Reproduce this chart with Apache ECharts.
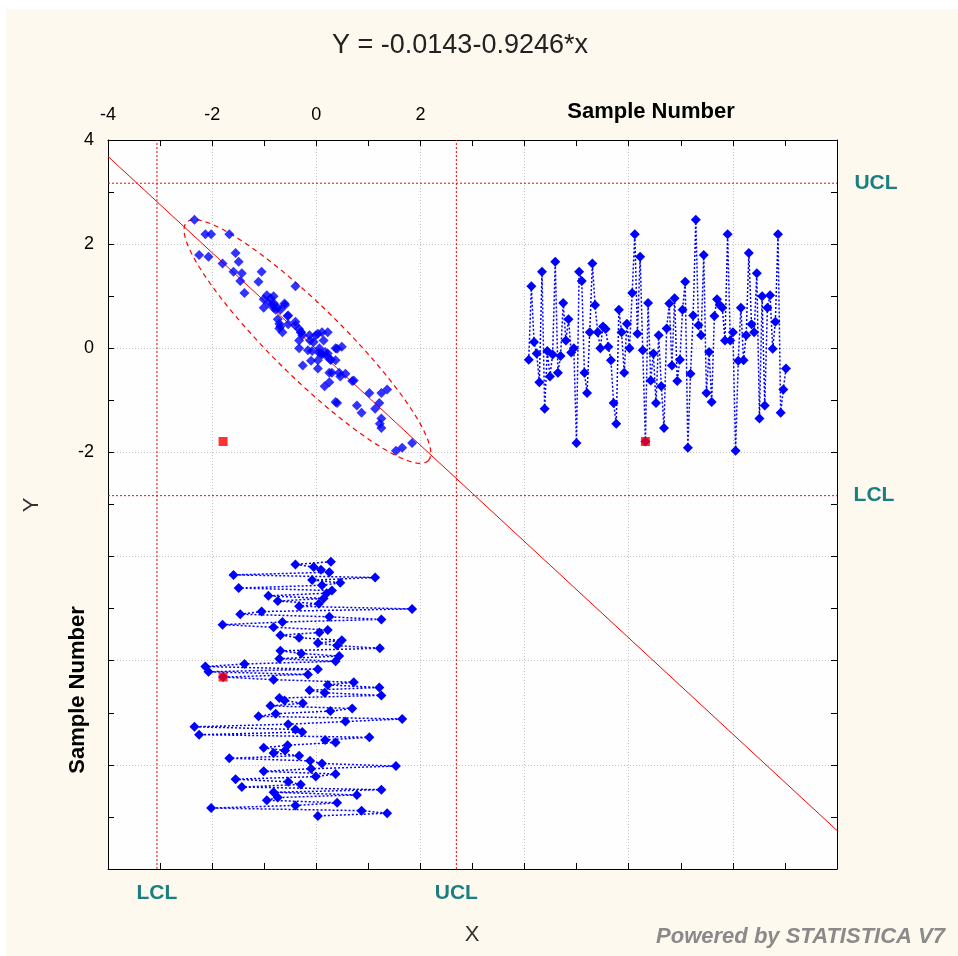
<!DOCTYPE html>
<html><head><meta charset="utf-8">
<script src="https://cdn.jsdelivr.net/npm/echarts@6/dist/echarts.min.js"></script>
<style>html,body{margin:0;padding:0;background:#fff}#c{width:958px;height:956px}</style>
</head><body><div id="c"></div>
<script>
// ---- data (sample order) ----
const xValues = [0.28,-0.40,-0.05,0.09,0.25,-1.59,1.13,-0.08,0.46,0.11,
  -1.49,0.30,0.20,-0.92,0.14,-0.74,0.05,-0.33,1.84,-1.05,
  -1.46,0.25,1.25,-0.65,-1.80,-0.82,0.22,0.06,-0.69,-0.33,
  0.49,0.03,0.40,1.22,-0.69,-0.29,0.44,-0.71,0.37,-1.38,
  -2.13,0.03,-2.07,-0.16,-1.79,-0.82,0.72,0.22,1.21,-0.13,
  0.16,1.25,-0.71,-0.61,-0.26,-0.88,0.69,0.27,-0.78,-1.11,
  1.65,0.56,-0.54,-2.34,-0.40,-0.27,-2.25,1.02,0.17,0.37,
  -0.55,-1.01,-0.60,-0.82,-0.33,-1.67,-0.12,0.11,1.53,-0.10,
  -1.01,0.37,-0.01,-1.55,-0.54,-0.30,-1.43,1.25,-0.82,0.78,
  -0.74,-0.95,0.40,-0.40,-2.02,0.87,1.36,0.03];
const yValues = [-0.22,1.19,0.12,-0.10,-0.65,1.47,-1.16,-0.05,-0.54,-0.12,
  1.66,-0.47,-0.15,0.87,0.15,0.56,-0.08,0.00,-1.82,1.47,
  1.29,-0.47,-0.86,0.31,1.63,0.83,0.31,0.00,0.42,0.37,
  0.03,-0.23,-1.05,-1.45,0.74,0.31,-0.47,0.47,0.00,1.06,
  2.19,0.28,1.76,-0.04,-1.79,0.87,-0.62,-0.10,-1.05,0.25,
  -0.73,-1.53,0.38,0.86,-0.33,0.96,-0.63,-0.22,0.74,1.28,
  -1.91,-0.49,0.63,2.47,0.44,0.25,1.79,-0.86,-0.07,-1.03,
  0.62,0.94,0.83,0.78,0.15,2.19,0.15,0.31,-1.97,-0.24,
  0.78,-0.23,0.25,1.83,0.46,0.31,1.44,-1.35,1.00,-1.10,
  0.78,1.02,-0.01,0.51,2.19,-1.24,-0.79,-0.39];
const highlightIndex = [44];               // sample shown as red square (0-based)
const regressionCoef = [-0.0143, -0.9246]; // intercept, slope
const xControlLimits = [-3.06, 2.69];      // LCL, UCL for X
const yControlLimits = [-2.83, 3.17];      // LCL, UCL for Y
const ellipseCenter = [-0.17, 0.13];
const ellipseSemiAxes = [3.26, 0.68];
const ellipseAngleDeg = -44.6;
const xTickLabels = ['-4','-2','0','2'];
const yTickLabels = ['4','2','0','-2'];
const titleText = 'Y = -0.0143-0.9246*x';

// ---- layout ----
const FONT = '"Liberation Sans", Arial, sans-serif';
const XMIN = -4, XMAX = 10, YMIN = -10, YMAX = 4;
const sampleSpanX = [4.08, 9.02];   // where the Y-vs-sample panel sits (x units)
const sampleSpanY = [-4.10, -8.98]; // where the X-vs-sample panel sits (y units)
const N = Math.min(xValues.length, yValues.length);
const sx = i => sampleSpanX[0] + i * (sampleSpanX[1] - sampleSpanX[0]) / (N - 1);
const sy = i => sampleSpanY[0] + i * (sampleSpanY[1] - sampleSpanY[0]) / (N - 1);

const blue = '#0000ff', red = '#ff0000', teal = '#1a7f80';

const scatterMain = [], scatterRed = [], panelY = [], panelX = [], panelYRed = [], panelXRed = [];
for (let i = 0; i < N; i++) {
  const hi = highlightIndex.includes(i);
  (hi ? scatterRed : scatterMain).push([xValues[i], yValues[i]]);
  panelY.push([sx(i), yValues[i]]);
  panelX.push([xValues[i], sy(i)]);
  if (hi) { panelYRed.push([sx(i), yValues[i]]); panelXRed.push([xValues[i], sy(i)]); }
}
const regLine = [XMIN, XMAX].map(x => [x, regressionCoef[0] + regressionCoef[1] * x]);
const ell = [];
{
  const th = ellipseAngleDeg * Math.PI / 180, [a, b] = ellipseSemiAxes, [cx, cy] = ellipseCenter;
  for (let k = 0; k <= 160; k++) {
    const t = 2 * Math.PI * k / 160, c = Math.cos(t), s = Math.sin(t);
    ell.push([cx + a * c * Math.cos(th) - b * s * Math.sin(th), cy + a * c * Math.sin(th) + b * s * Math.cos(th)]);
  }
}

const tickCommon = {
  axisLine: {show: true, onZero: false, lineStyle: {color: '#000', width: 1}},
  axisTick: {show: true, inside: true, length: 6, lineStyle: {color: '#000'}},
  minorTick: {show: true, splitNumber: 2, length: 6, lineStyle: {color: '#000'}},
};
const gridLine = {show: true, lineStyle: {color: '#c4c4c4', type: [1, 2], width: 1}};
const labelStyle = {fontFamily: FONT, fontSize: 18, color: '#000'};

const chart = echarts.init(document.getElementById('c'));
const limitLine = (data) => ({type: 'line', data, symbol: 'none', silent: true, z: 1,
  lineStyle: {color: red, width: 1, type: [2, 2]}});

chart.setOption({
  animation: false,
  backgroundColor: '#fdf9ef',
  grid: {left: 108, top: 140, width: 729, height: 729, show: true, backgroundColor: '#fefefe', borderWidth: 0},
  xAxis: [
    Object.assign({type: 'value', min: XMIN, max: XMAX, interval: 2, position: 'top',
      axisLabel: Object.assign({margin: 16, formatter: v => xTickLabels.includes(String(v)) ? String(v) : ''}, labelStyle),
      splitLine: gridLine}, tickCommon),
    Object.assign({type: 'value', min: XMIN, max: XMAX, interval: 2, position: 'bottom',
      axisLabel: {show: false}, splitLine: {show: false}}, tickCommon)
  ],
  yAxis: [
    Object.assign({type: 'value', min: YMIN, max: YMAX, interval: 2, position: 'left',
      axisLabel: Object.assign({margin: 14, formatter: v => yTickLabels.includes(String(v)) ? String(v) : ''}, labelStyle),
      splitLine: gridLine}, tickCommon),
    Object.assign({type: 'value', min: YMIN, max: YMAX, interval: 2, position: 'right',
      axisLabel: {show: false}, splitLine: {show: false}}, tickCommon)
  ],
  series: [
    limitLine([[xControlLimits[0], YMIN], [xControlLimits[0], YMAX]]),
    limitLine([[xControlLimits[1], YMIN], [xControlLimits[1], YMAX]]),
    limitLine([[XMIN, yControlLimits[0]], [XMAX, yControlLimits[0]]]),
    limitLine([[XMIN, yControlLimits[1]], [XMAX, yControlLimits[1]]]),
    {type: 'line', data: regLine, symbol: 'none', silent: true, z: 2, lineStyle: {color: red, width: 1}},
    {type: 'line', data: ell, symbol: 'none', silent: true, z: 2, smooth: false, lineStyle: {color: red, width: 1.2, type: [5, 4]}},
    {type: 'line', data: panelY, symbol: 'diamond', symbolSize: 10, showAllSymbol: true, z: 3,
      itemStyle: {color: blue}, lineStyle: {color: blue, width: 1.5, type: [2, 2]}},
    {type: 'line', data: panelX, symbol: 'diamond', symbolSize: 10, showAllSymbol: true, z: 3,
      itemStyle: {color: blue}, lineStyle: {color: blue, width: 1.5, type: [2, 2]}},
    {type: 'scatter', data: scatterMain, symbol: 'diamond', symbolSize: 10, z: 4, itemStyle: {color: blue}},
    {type: 'scatter', data: scatterRed.concat(panelYRed, panelXRed), symbol: 'rect', symbolSize: 9, z: 5, itemStyle: {color: red}}
  ]
});

const px = (x, y) => chart.convertToPixel({xAxisIndex: 0, yAxisIndex: 0}, [x, y]);
const uclY = px(XMAX, yControlLimits[1]), lclY = px(XMAX, yControlLimits[0]);
const lclX = px(xControlLimits[0], YMIN), uclX = px(xControlLimits[1], YMIN);
const tealStyle = {fill: teal, font: 'bold 21px ' + FONT, textAlign: 'center', textVerticalAlign: 'middle'};
chart.setOption({
  graphic: [
    {type: 'rect', shape: {x: 0, y: 0, width: 958, height: 9}, style: {fill: '#fff'}, silent: true},
    {type: 'rect', shape: {x: 0, y: 0, width: 6, height: 956}, style: {fill: '#fff'}, silent: true},
    {type: 'text', x: 460, y: 46, style: {text: titleText, fill: '#222', font: '27px ' + FONT, textAlign: 'center', textVerticalAlign: 'middle'}},
    {type: 'text', x: 651, y: 112, style: {text: 'Sample Number', fill: '#000', font: 'bold 22px ' + FONT, textAlign: 'center', textVerticalAlign: 'middle'}},
    {type: 'text', x: 78, y: 690, rotation: Math.PI / 2, style: {text: 'Sample Number', fill: '#000', font: 'bold 22px ' + FONT, textAlign: 'center', textVerticalAlign: 'middle'}},
    {type: 'text', x: 32, y: 505, rotation: Math.PI / 2, style: {text: 'Y', fill: '#333', font: '22px ' + FONT, textAlign: 'center', textVerticalAlign: 'middle'}},
    {type: 'text', x: 472, y: 935, style: {text: 'X', fill: '#333', font: '22px ' + FONT, textAlign: 'center', textVerticalAlign: 'middle'}},
    {type: 'text', x: 876, y: uclY[1], style: Object.assign({text: 'UCL'}, tealStyle)},
    {type: 'text', x: 874, y: lclY[1], style: Object.assign({text: 'LCL'}, tealStyle)},
    {type: 'text', x: lclX[0], y: 893, style: Object.assign({text: 'LCL'}, tealStyle)},
    {type: 'text', x: uclX[0], y: 893, style: Object.assign({text: 'UCL'}, tealStyle)},
    {type: 'text', x: 945, y: 937, style: {text: 'Powered by STATISTICA V7', fill: '#8a8a8a', font: 'italic bold 22px ' + FONT, textAlign: 'right', textVerticalAlign: 'middle'}}
  ]
});
</script>
</body></html>
